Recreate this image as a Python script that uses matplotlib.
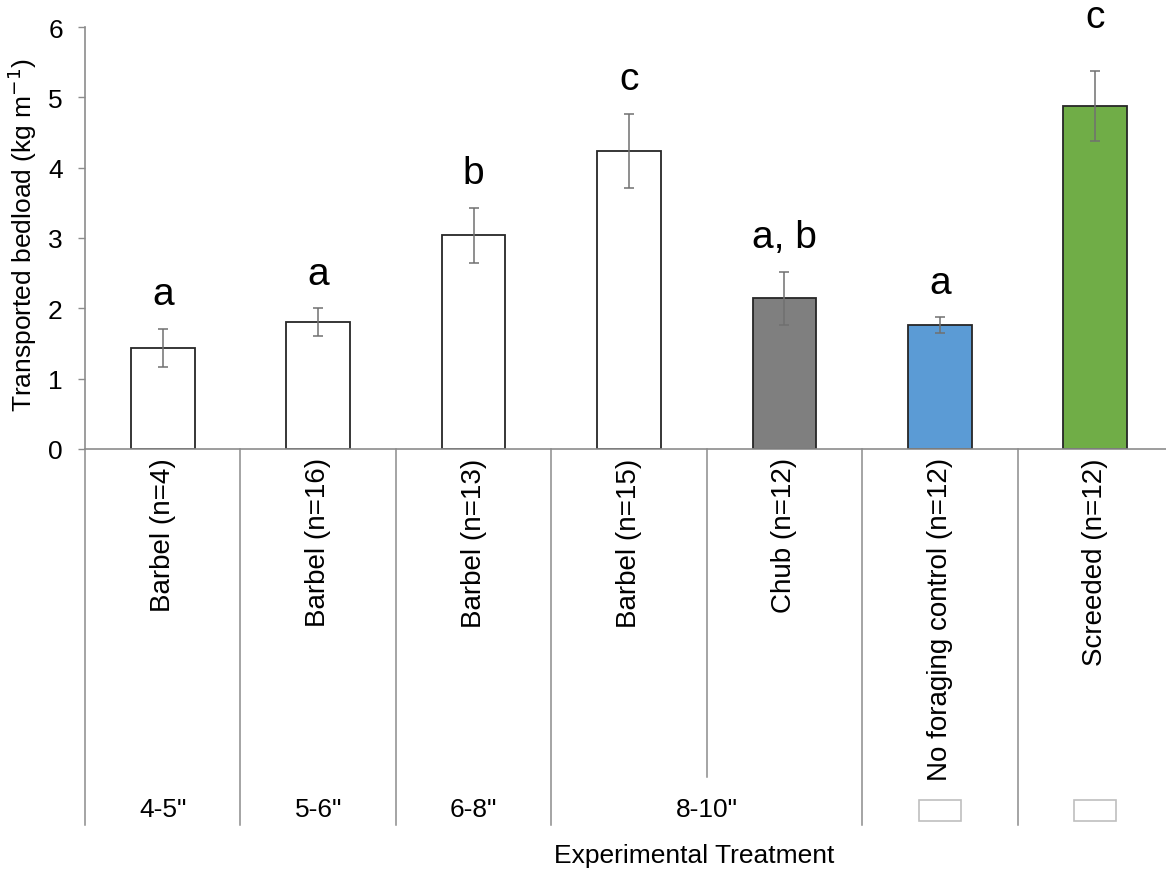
import matplotlib
matplotlib.use('Agg')
import matplotlib.pyplot as plt
import matplotlib.transforms as mtransforms
from matplotlib.patches import Rectangle

plt.rcParams['font.family'] = ['Liberation Sans', 'DejaVu Sans']

# Data
treatments = ['Barbel (n=4)', 'Barbel (n=16)', 'Barbel (n=13)', 'Barbel (n=15)',
              'Chub (n=12)', 'No foraging control (n=12)', 'Screeded (n=12)']
bedload = [1.44, 1.80, 3.04, 4.24, 2.14, 1.76, 4.88]
bedload_se = [0.27, 0.20, 0.39, 0.53, 0.38, 0.11, 0.50]
letters = ['a', 'a', 'b', 'c', 'a, b', 'a', 'c']
size_groups = ['4-5"', '5-6"', '6-8"', '8-10"']
size_group_centres = [0, 1, 2, 3.5]
bar_colors = ['white', 'white', 'white', 'white', '#7f7f7f', '#5b9bd5', '#70ad47']

grey = '#8c8c8c'

fig = plt.figure(figsize=(11.66, 8.70), dpi=100)
ax = fig.add_axes([85 / 1166, 1 - 450 / 870, 1088 / 1166, 422 / 870])

x = range(len(treatments))
ax.bar(x, bedload, width=0.41, color=bar_colors, edgecolor='#262626', linewidth=1.3,
       yerr=bedload_se, error_kw=dict(ecolor='#707070', elinewidth=1.1, capsize=3.5, capthick=1.1))

# significance letters
for i in x:
    top = bedload[i] + bedload_se[i]
    gap = 0.62 if i == len(treatments) - 1 else 0.35
    ax.text(i, top + gap, letters[i], ha='center', va='baseline', fontsize=28, clip_on=False)

ax.set_xlim(-0.5, 6.5)
ax.set_ylim(0, 6)
ax.set_yticks(range(7))
ax.tick_params(axis='y', labelsize=19, length=5, width=1, color=grey, pad=11)
ax.set_xticks(list(x))
ax.set_xticklabels(treatments, rotation=90, va='top', ha='center', fontsize=20)
ax.tick_params(axis='x', length=0, pad=6)

for s in ['top', 'right']:
    ax.spines[s].set_visible(False)
for s in ['left', 'bottom']:
    ax.spines[s].set_color(grey)
    ax.spines[s].set_linewidth(1.2)

# separators of the multi-level category axis
trans = mtransforms.blended_transform_factory(ax.transData, ax.transAxes)
for b in [-0.5, 0.5, 1.5, 2.5, 3.5, 4.5, 5.5]:
    low = -0.777 if b == 3.5 else -0.891
    ax.plot([b, b], [0, low], color=grey, lw=1.1, transform=trans, clip_on=False)

for label, c in zip(size_groups, size_group_centres):
    ax.text(c, -0.853, label, ha='center', va='center', fontsize=19, transform=trans)

# blank group label boxes
for c in [5, 6]:
    ax.add_patch(Rectangle((c - 0.135, -0.882), 0.27, 0.05, transform=trans, clip_on=False,
                           facecolor='white', edgecolor='#bfbfbf', lw=1.2))

fig.text(694 / 1166, 1 - 856 / 870, 'Experimental Treatment', ha='center', va='center', fontsize=19)
fig.text(22 / 1166, 1 - 235 / 870, 'Transported bedload (kg m$^{-1}$)', rotation=90,
         ha='center', va='center', fontsize=19)

fig.savefig('out.png', dpi=100)
